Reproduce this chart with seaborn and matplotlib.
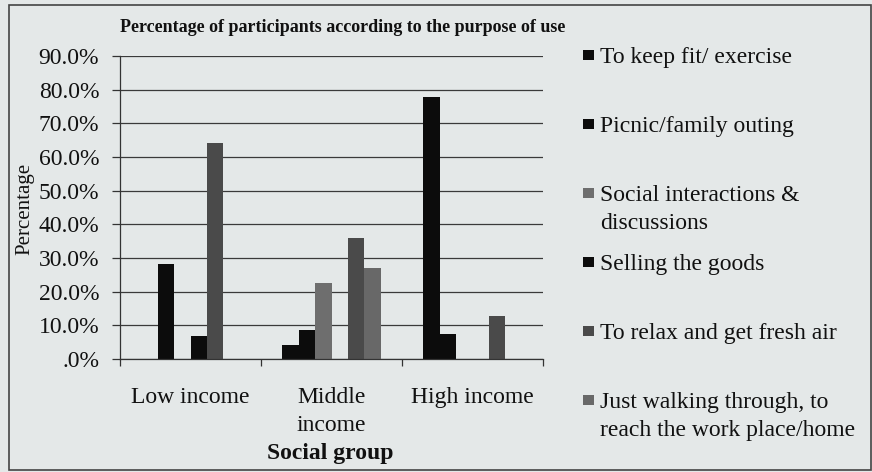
import matplotlib
matplotlib.use("Agg")
import matplotlib.pyplot as plt
import matplotlib.patches as mpatches
import seaborn as sns
import pandas as pd

# ---- data ----
groups = ["Low income", "Middle\nincome", "High income"]
series = [
    "To keep fit/ exercise",
    "Picnic/family outing",
    "Social interactions &\ndiscussions",
    "Selling the goods",
    "To relax and get fresh air",
    "Just walking through, to\nreach the work place/home",
]
keep_fit = [0.0, 4.2, 77.9]
picnic = [28.3, 8.5, 7.4]
social = [0.0, 22.6, 0.0]
selling = [6.7, 0.0, 0.0]
relax = [64.2, 35.9, 12.9]
walking = [0.0, 27.0, 0.0]
yticks = [0, 10, 20, 30, 40, 50, 60, 70, 80, 90]
ytick_labels = [".0%", "10.0%", "20.0%", "30.0%", "40.0%", "50.0%",
                "60.0%", "70.0%", "80.0%", "90.0%"]
title = "Percentage of participants according to the purpose of use"
xlabel = "Social group"
ylabel = "Percentage"
colors = ["#0c0c0c", "#0c0c0c", "#6e6e6e", "#0c0c0c", "#4a4a4a", "#686868"]

values = [keep_fit, picnic, social, selling, relax, walking]
rows = []
for s, vals in zip(series, values):
    for g, v in zip(groups, vals):
        rows.append({"group": g, "series": s, "value": v})
df = pd.DataFrame(rows)

# ---- style ----
sns.set_theme(style="white")
plt.rcParams["font.family"] = ["Liberation Serif", "DejaVu Serif"]
bg = "#e4e8e8"
ink = "#111111"

W, H = 872, 472
fig = plt.figure(figsize=(W / 100, H / 100), dpi=100, facecolor=bg)
ax = fig.add_axes([120 / W, 1 - 359 / H, 423 / W, 303 / H], facecolor=bg)

sns.barplot(data=df, x="group", y="value", hue="series", order=groups,
            hue_order=series, palette=colors, width=0.7, gap=0,
            linewidth=0, saturation=1, legend=False, ax=ax)

ax.set_xlim(-0.5, 2.5)
ax.set_ylim(0, 90)
ax.set_yticks(yticks, ytick_labels)
ax.set_xticks([-0.5, 0.5, 1.5, 2.5], ["", "", "", ""])
ax.set_xticks([0, 1, 2], groups, minor=True)
ax.tick_params(axis="x", which="major", direction="out", length=5,
               width=0.9, color="#333333", bottom=True)
ax.tick_params(axis="x", which="minor", length=0, pad=20, labelsize=17,
               labelcolor=ink)
for lab in ax.get_xticklabels(minor=True):
    lab.set_linespacing(1.45)
ax.tick_params(axis="y", which="major", direction="out", length=6,
               width=0.9, color="#333333", left=True, pad=9, labelsize=17,
               labelcolor=ink)
ax.set_axisbelow(True)
ax.yaxis.grid(True, color="#3a3a3a", linewidth=0.9)
ax.xaxis.grid(False)
for side in ["top", "right"]:
    ax.spines[side].set_visible(False)
for side in ["left", "bottom"]:
    ax.spines[side].set_color("#333333")
    ax.spines[side].set_linewidth(0.9)
ax.set_xlabel("")
ax.set_ylabel("")

# titles / axis labels
fig.text(343 / W, 1 - 28 / H, title, ha="center", va="center",
         fontsize=13, fontweight="bold", color=ink)
fig.text(25 / W, 1 - 209 / H, ylabel, rotation=90, ha="center",
         va="center", fontsize=15, color=ink)
fig.text(330 / W, 1 - 453 / H, xlabel, ha="center", va="center",
         fontsize=17, fontweight="bold", color=ink)

# legend (entries at a fixed pitch, marker beside first line)
base0, pitch, line_h = 62.7, 69.0, 28.0
for i, (name, col) in enumerate(zip(series, colors)):
    base = base0 + pitch * i
    fig.add_artist(mpatches.Rectangle((583 / W, 1 - (base - 2.5) / H),
                                      10.5 / W, 10 / H, facecolor=col,
                                      edgecolor="none",
                                      transform=fig.transFigure))
    for k, line in enumerate(name.split("\n")):
        fig.text(600 / W, 1 - (base + k * line_h) / H, line, ha="left",
                 va="baseline", fontsize=17, color=ink)

# outer frame
fig.add_artist(mpatches.Rectangle((9 / W, 2 / H), 862 / W, 465 / H,
                                  fill=False, edgecolor="#444444",
                                  linewidth=1.2, transform=fig.transFigure))

fig.savefig("out.png", dpi=100, facecolor=bg)
